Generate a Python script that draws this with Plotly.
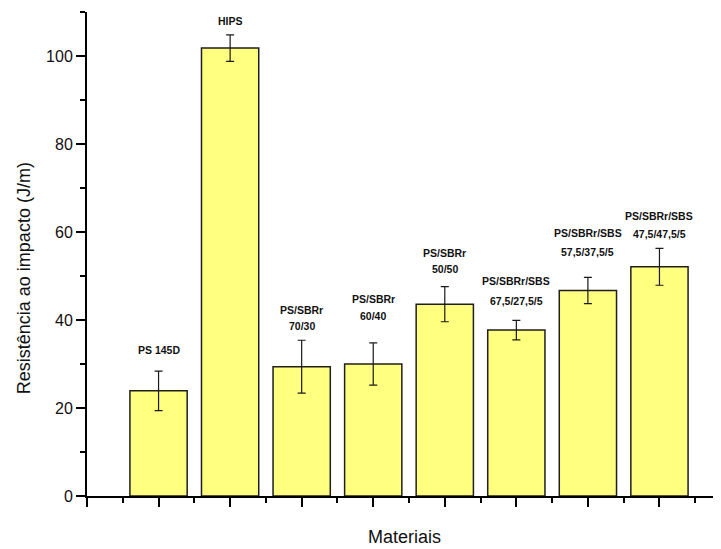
import plotly.graph_objects as go

# ---- data ----
categories = ["PS 145D", "HIPS", "PS/SBRr\n70/30", "PS/SBRr\n60/40", "PS/SBRr\n50/50",
              "PS/SBRr/SBS\n67,5/27,5/5", "PS/SBRr/SBS\n57,5/37,5/5", "PS/SBRr/SBS\n47,5/47,5/5"]
impact = [23.9, 101.8, 29.4, 30.0, 43.6, 37.7, 46.7, 52.1]
impact_err = [4.5, 3.0, 6.0, 4.8, 4.0, 2.2, 3.0, 4.2]
y_ticks = [0, 20, 40, 60, 80, 100]

# ---- label placement (pixels above error bar top, line spacing) ----
label_gap = [21, 14, 14, 27, 18, 19, 25, 14]
label_spacing = [16, 16, 16, 17, 16, 20, 19, 18]

positions = list(range(1, len(categories) + 1))
FONT = "Arial, Liberation Sans, sans-serif"

fig = go.Figure()
fig.add_trace(go.Bar(
    x=positions, y=impact, width=0.8,
    marker=dict(color="#FFFF80", line=dict(color="#1f1f1f", width=1.5)),
    error_y=dict(type="data", array=impact_err, visible=True,
                 color="#1a1a1a", thickness=1.2, width=4),
    hovertext=categories, showlegend=False,
))

for i, (lab, v, e) in enumerate(zip(categories, impact, impact_err)):
    lines = lab.split("\n")
    n = len(lines)
    for j, line in enumerate(lines):
        k = n - 1 - j  # 0 for bottom line
        fig.add_annotation(
            x=positions[i], y=v + e, xref="x", yref="y",
            text=f"<b>{line}</b>", showarrow=False,
            yanchor="middle", xanchor="center",
            yshift=label_gap[i] + k * label_spacing[i],
            font=dict(family=FONT, size=10.5, color="#111111"),
        )

# axis titles
fig.add_annotation(
    text="Resistência ao impacto (J/m)", textangle=-90, showarrow=False,
    xref="paper", yref="paper", x=0, y=0.45, xanchor="center", yanchor="middle",
    xshift=-63, font=dict(size=18, family=FONT, color="#111111"),
)
fig.add_annotation(
    text="Materiais", showarrow=False,
    xref="paper", yref="paper", x=0.5, y=0, xanchor="center", yanchor="middle",
    yshift=-41, font=dict(size=18, family=FONT, color="#111111"),
)

fig.update_layout(
    width=713, height=541,
    margin=dict(l=79, r=0, t=4, b=53),
    paper_bgcolor="white", plot_bgcolor="white",
    font=dict(family=FONT, color="#111111"),
    bargap=0.2,
)
fig.update_xaxes(
    range=[0, 8.86], showline=True, linecolor="black", linewidth=2,
    tickmode="array", tickvals=list(range(0, 9)), showticklabels=False,
    ticks="outside", ticklen=9, tickwidth=2, tickcolor="black",
    minor=dict(tickvals=[p + 0.5 for p in range(0, 9)], ticks="outside",
               ticklen=5, tickwidth=2, tickcolor="black"),
    showgrid=False, zeroline=False, automargin=False,
)
fig.update_yaxes(
    range=[0, 110], showline=True, linecolor="black", linewidth=2,
    tickmode="array", tickvals=y_ticks, ticktext=[str(t) for t in y_ticks],
    ticks="outside", ticklen=9, tickwidth=2, tickcolor="black",
    tickfont=dict(size=16, family=FONT, color="#111111"),
    minor=dict(tickvals=[10, 30, 50, 70, 90, 110], ticks="outside",
               ticklen=5, tickwidth=2, tickcolor="black"),
    showgrid=False, zeroline=False, automargin=False,
)

fig.write_html("out.html")
